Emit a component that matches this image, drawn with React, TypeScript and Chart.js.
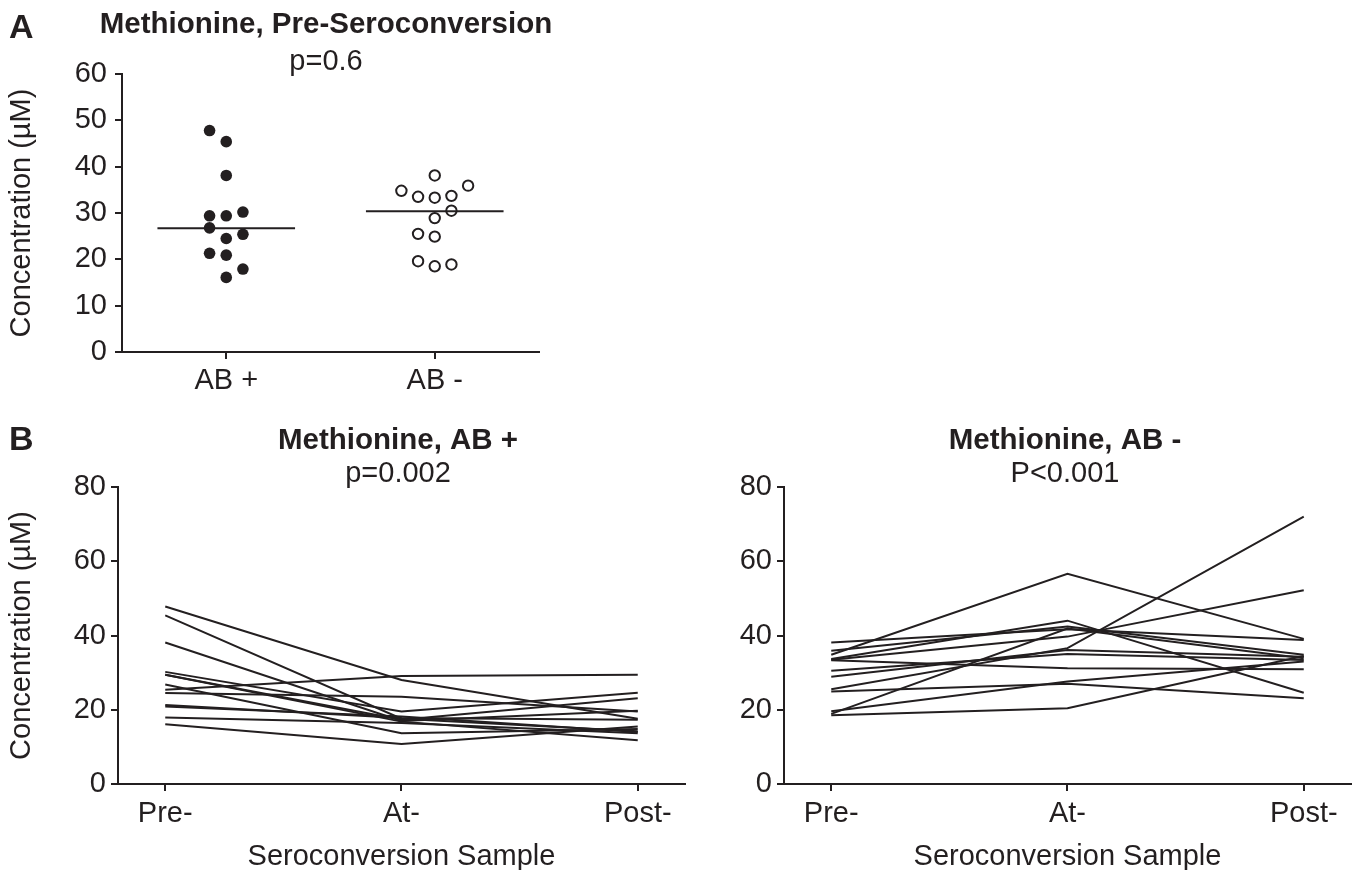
import React, { useEffect, useRef } from "react";
import { Chart, registerables } from "chart.js";

Chart.register(...registerables);

const INK = "#231f20";
const FONT = "'Liberation Sans', Arial, Helvetica, sans-serif";

// ---------- Panel A data ----------
const groupLabels = ["AB +", "AB -"];
const abPosPre = [47.8, 45.4, 38.1, 30.2, 29.4, 29.4, 26.8, 25.4, 24.5, 21.3, 20.9, 17.9, 16.1];
const abPosColumn = [-1, 0, 0, 1, -1, 0, -1, 1, 0, -1, 0, 1, 0];
const abNegPre = [38.1, 35.9, 34.8, 33.7, 33.5, 33.3, 30.5, 28.9, 25.5, 24.9, 19.6, 18.9, 18.5];
const abNegColumn = [0, 2, -2, 1, -1, 0, 1, 0, -1, 0, -1, 1, 0];
const groupMeans = [26.7, 30.4];
const aTicks = [0, 10, 20, 30, 40, 50, 60];

// ---------- Panel B data ----------
const sampleLabels = ["Pre-", "At-", "Post-"];
const abPosAt = [28.0, 17.6, 17.0, 19.5, 17.3, 16.8, 13.7, 29.1, 23.5, 17.8, 18.2, 16.4, 10.8];
const abPosPost = [17.6, 14.2, 19.7, 24.6, 23.1, 11.8, 14.8, 29.4, 19.5, 17.3, 14.0, 13.7, 15.5];
const abNegLinePre = [38.1, 35.9, 34.8, 33.7, 33.5, 33.3, 30.5, 25.5, 18.9, 28.9, 24.9, 19.6, 18.5];
const abNegAt = [41.7, 42.4, 56.6, 44.0, 39.7, 31.2, 35.0, 36.6, 41.9, 36.1, 27.0, 27.6, 20.4];
const abNegPost = [38.8, 34.8, 39.1, 24.6, 52.2, 30.9, 33.4, 72.0, 33.9, 34.3, 23.1, 33.0, 34.5];
const bTicks = [0, 20, 40, 60, 80];

const JITTER = 0.08;
const MEAN_HALF = 0.33;

type TextItem = { text: string; x: number; y: number; font: string; align?: CanvasTextAlign };

const textPlugin = {
  id: "panelText",
  afterDraw(chart: any, _args: any, opts: any) {
    const ctx = chart.ctx as CanvasRenderingContext2D;
    ctx.save();
    for (const t of (opts.items || []) as TextItem[]) {
      ctx.font = t.font;
      ctx.fillStyle = INK;
      ctx.textAlign = t.align || "center";
      ctx.textBaseline = "alphabetic";
      ctx.fillText(t.text, t.x, t.y);
    }
    ctx.restore();
  },
};

function yScale(max: number, step: number, width: number, pad: number, title?: string) {
  return {
    type: "linear",
    min: 0,
    max,
    ticks: { stepSize: step, color: INK, font: { family: FONT, size: 29 }, padding: pad },
    grid: { display: true, drawOnChartArea: false, drawTicks: true, tickLength: 7, lineWidth: 2, color: INK },
    border: { display: true, color: INK, width: 2 },
    title: title
      ? { display: true, text: title, color: INK, font: { family: FONT, size: 29 }, padding: { top: 5, bottom: 0 } }
      : { display: false },
    afterFit: (s: any) => {
      s.width = width;
    },
  };
}

function xScale(min: number, max: number, labels: string[], height: number, pad: number, title?: string) {
  return {
    type: "linear",
    min,
    max,
    afterBuildTicks: (s: any) => {
      s.ticks = labels.map((_, i) => ({ value: i }));
    },
    ticks: {
      color: INK,
      font: { family: FONT, size: 29 },
      padding: pad,
      autoSkip: false,
      maxRotation: 0,
      callback: (v: any) => labels[Math.round(Number(v))] ?? "",
    },
    grid: { display: true, drawOnChartArea: false, drawTicks: true, tickLength: 7, lineWidth: 2, color: INK },
    border: { display: true, color: INK, width: 2 },
    title: title
      ? { display: true, text: title, color: INK, font: { family: FONT, size: 29 }, padding: { top: 0, bottom: 6 } }
      : { display: false },
    afterFit: (s: any) => {
      s.height = height;
    },
  };
}

function baseOptions(padding: any, scales: any, items: TextItem[]) {
  return {
    responsive: false,
    animation: false,
    events: [],
    layout: { padding },
    plugins: { legend: { display: false }, tooltip: { enabled: false }, panelText: { items } },
    scales,
  };
}

function buildPanelA(): any {
  const filled = abPosPre.map((v, i) => ({ x: 0 + abPosColumn[i] * JITTER, y: v }));
  const open = abNegPre.map((v, i) => ({ x: 1 + abNegColumn[i] * JITTER, y: v }));
  const meanSets = groupMeans.map((m, g) => ({
    data: [
      { x: g - MEAN_HALF, y: m },
      { x: g + MEAN_HALF, y: m },
    ],
    showLine: true,
    borderColor: INK,
    borderWidth: 2,
    pointRadius: 0,
  }));
  return {
    type: "scatter",
    data: {
      datasets: [
        ...meanSets,
        { data: filled, pointRadius: 5.8, pointBackgroundColor: INK, pointBorderColor: INK, pointBorderWidth: 0 },
        { data: open, pointRadius: 5.2, pointBackgroundColor: "#ffffff", pointBorderColor: INK, pointBorderWidth: 2 },
      ],
    },
    options: baseOptions(
      { left: 0, top: 74, right: 61, bottom: 0 },
      {
        x: xScale(-0.5, 1.5, groupLabels, 68, 5),
        y: yScale(aTicks[aTicks.length - 1], aTicks[1] - aTicks[0], 122, 8, "Concentration (µM)"),
      },
      [
        { text: "A", x: 9, y: 38, font: `bold 34px ${FONT}`, align: "left" },
        { text: "Methionine, Pre-Seroconversion", x: 326, y: 33, font: `bold 29.5px ${FONT}` },
        { text: "p=0.6", x: 326, y: 70, font: `29px ${FONT}` },
      ]
    ),
    plugins: [textPlugin],
  };
}

function lineSets(pre: number[], at: number[], post: number[]) {
  return pre.map((p, i) => ({
    data: [
      { x: 0, y: p },
      { x: 1, y: at[i] },
      { x: 2, y: post[i] },
    ],
    showLine: true,
    borderColor: INK,
    borderWidth: 2,
    pointRadius: 0,
  }));
}

function buildPanelBLeft(): any {
  return {
    type: "scatter",
    data: { datasets: lineSets(abPosPre, abPosAt, abPosPost) },
    options: baseOptions(
      { left: 0, top: 87, right: 15, bottom: 0 },
      {
        x: xScale(-0.2, 2.2, sampleLabels, 96, 6, "Seroconversion Sample"),
        y: yScale(bTicks[bTicks.length - 1], bTicks[1] - bTicks[0], 118, 5, "Concentration (µM)"),
      },
      [
        { text: "B", x: 9, y: 50, font: `bold 34px ${FONT}`, align: "left" },
        { text: "Methionine, AB +", x: 398, y: 49, font: `bold 29.5px ${FONT}` },
        { text: "p=0.002", x: 398, y: 82, font: `29px ${FONT}` },
      ]
    ),
    plugins: [textPlugin],
  };
}

function buildPanelBRight(): any {
  return {
    type: "scatter",
    data: { datasets: lineSets(abNegLinePre, abNegAt, abNegPost) },
    options: baseOptions(
      { left: 0, top: 87, right: 8, bottom: 0 },
      {
        x: xScale(-0.2, 2.2, sampleLabels, 96, 6, "Seroconversion Sample"),
        y: yScale(bTicks[bTicks.length - 1], bTicks[1] - bTicks[0], 84, 5),
      },
      [
        { text: "Methionine, AB -", x: 365, y: 49, font: `bold 29.5px ${FONT}` },
        { text: "P<0.001", x: 365, y: 82, font: `29px ${FONT}` },
      ]
    ),
    plugins: [textPlugin],
  };
}

function ChartCanvas(props: { build: () => any; left: number; top: number; width: number; height: number }) {
  const ref = useRef<HTMLCanvasElement | null>(null);
  useEffect(() => {
    if (!ref.current) return;
    const chart = new Chart(ref.current, props.build());
    return () => chart.destroy();
  }, []);
  return (
    <canvas
      ref={ref}
      width={props.width}
      height={props.height}
      style={{ position: "absolute", left: props.left, top: props.top, width: props.width, height: props.height }}
    />
  );
}

export default function App() {
  return (
    <div
      style={{
        position: "absolute",
        left: 0,
        top: 0,
        width: 1359,
        height: 870,
        background: "#ffffff",
        overflow: "hidden",
      }}
    >
      <ChartCanvas build={buildPanelA} left={0} top={0} width={600} height={420} />
      <ChartCanvas build={buildPanelBLeft} left={0} top={400} width={700} height={480} />
      <ChartCanvas build={buildPanelBRight} left={700} top={400} width={659} height={480} />
    </div>
  );
}
